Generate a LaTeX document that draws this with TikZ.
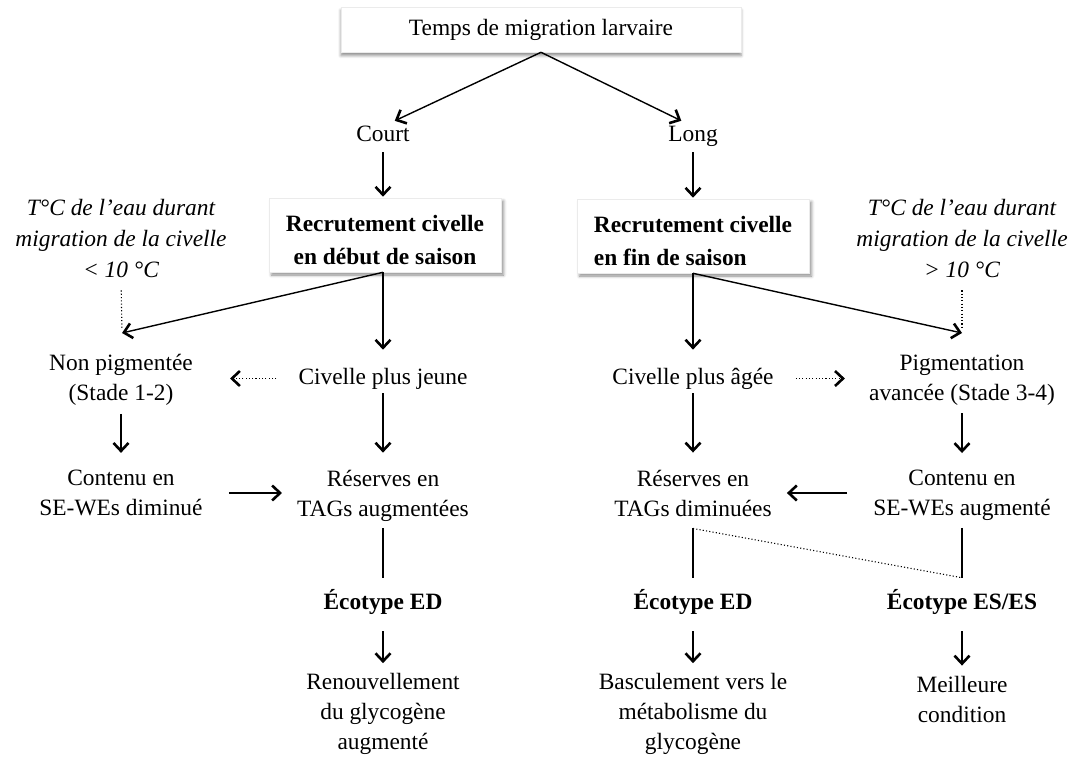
\documentclass[tikz,border=0pt]{standalone}
\usepackage{fontspec}
\setmainfont{Liberation Serif}
\usetikzlibrary{arrows.meta,shadows.blur}

\newcommand\dfs{\fontsize{23.4}{30}\selectfont}
\newcommand\nfs{\fontsize{23.4}{31}\selectfont\itshape}
\newcommand\bfs{\fontsize{23.4}{33}\selectfont\bfseries}

\begin{document}
\begin{tikzpicture}[x=1pt,y=-1pt,
  lbl/.style={font=\dfs, align=center, inner sep=0pt},
  note/.style={font=\nfs, align=center, inner sep=0pt},
  eco/.style={font=\dfs\bfseries, align=center, inner sep=0pt},
  shadowed/.style={fill=white, draw=black!8, line width=0.6pt},
  boxed/.style={shadowed, font=\bfs, inner sep=0pt,
    minimum width=232pt, minimum height=74pt,
    blur shadow={shadow xshift=2.5pt, shadow yshift=-3pt,
      shadow blur radius=3pt, shadow opacity=45}},
  topbox/.style={shadowed, font=\dfs, inner sep=0pt,
    minimum width=400pt, minimum height=45pt,
    blur shadow={shadow xshift=0pt, shadow yshift=-3.5pt,
      shadow blur radius=3pt, shadow opacity=45}},
  tip/.style={-{Straight Barb[length=8pt,width=15pt,line width=2.6pt 0]}},
  arr/.style={line width=1.4pt, tip},
  link/.style={line width=1.4pt},
  dots/.style={line width=1.1pt, dash pattern=on 1.1pt off 2.2pt},
  dotarr/.style={dots, tip}
]
\useasboundingbox (0,0) rectangle (1075,759);

% header
\node[topbox] (top) at (541,29.5) {Temps de migration larvaire};
\node[lbl, anchor=base] (court) at (383,142) {Court};
\node[lbl, anchor=base] (long) at (693,142) {Long};

% recruitment boxes (the strut sets the first baseline)
\node[boxed, align=center] (boxL) at (385,235)
  {\rule{0pt}{27pt}Recrutement civelle\\en début de saison};
\node[boxed, align=left] (boxR) at (693,236)
  {\rule{0pt}{27pt}Recrutement civelle\\en fin de saison};

% water temperature notes
\node[note] (tL) at (121,238) {T°C de l’eau durant\\migration de la civelle\\< 10 °C};
\node[note] (tR) at (962,238) {T°C de l’eau durant\\migration de la civelle\\> 10 °C};
\coordinate (jL) at (122,333);
\coordinate (jR) at (962,333);

% pigmentation / age
\node[lbl] (np) at (121,380) {Non pigmentée\\(Stade 1-2)};
\node[lbl] (cj) at (383,378.5) {Civelle plus jeune};
\node[lbl] (ca) at (693,378.5) {Civelle plus âgée};
\node[lbl] (pa) at (962,380) {Pigmentation\\avancée (Stade 3-4)};

% reserves
\node[lbl] (ce1) at (121,493) {Contenu en\\SE-WEs diminué};
\node[lbl] (rta) at (383,495.5) {Réserves en\\TAGs augmentées};
\node[lbl] (rtd) at (693,493) {Réserves en\\TAGs diminuées};
\node[lbl] (ce2) at (962,495.5) {Contenu en\\SE-WEs augmenté};

% ecotypes
\node[eco] (ed1) at (383,601.5) {Écotype ED};
\node[eco] (ed2) at (693,601.5) {Écotype ED};
\node[eco] (es) at (962,601.5) {Écotype ES/ES};

% outcomes
\node[lbl] (ren) at (383,714) {Renouvellement\\du glycogène\\augmenté};
\node[lbl] (bas) at (693,714) {Basculement vers le\\métabolisme du\\glycogène};
\node[lbl] (mei) at (962,699) {Meilleure\\condition};

% ends of the dotted link between the two ecotype branches
\coordinate (dA) at ([yshift=-12pt]rtd.south);
\coordinate (dB) at ([yshift=11pt]es.north);

% connectors
\draw[arr, shorten >=13pt] (top.south) -- (court.north);
\draw[arr, shorten >=13pt] (top.south) -- (long.north);
\draw[arr, shorten <=10pt, shorten >=1pt] (court.south) -- (boxL.north -| court);
\draw[arr, shorten <=5pt, shorten >=1pt] (long.south) -- (boxR.north -| long);

\draw[arr] (boxL.south -| cj) -- (jL);
\draw[dots, shorten <=13pt, shorten >=5pt] (tL.south) -- (jL);
\draw[arr, shorten >=18pt] (boxL.south -| cj) -- (cj.north);
\draw[arr] (boxR.south -| ca) -- (jR);
\draw[dots, shorten <=13pt, shorten >=5pt] (tR.south) -- (jR);
\draw[arr, shorten >=18pt] (boxR.south -| ca) -- (ca.north);

\draw[dotarr, shorten <=22pt, shorten >=37pt] (cj.west) -- (np.east |- cj.west);
\draw[dotarr, shorten <=22pt, shorten >=24pt] (ca.east) -- (pa.west |- ca.east);

\draw[arr, shorten <=8pt, shorten >=17pt] (np.south) -- (ce1.north);
\draw[arr, shorten <=4pt, shorten >=17pt] (cj.south) -- (rta.north);
\draw[arr, shorten <=4pt, shorten >=17pt] (ca.south) -- (rtd.north);
\draw[arr, shorten <=8pt, shorten >=17pt] (pa.south) -- (ce2.north);

\draw[arr, shorten <=26pt, shorten >=15pt] (ce1.east) -- (rta.west |- ce1.east);
\draw[arr, shorten <=26pt, shorten >=15pt] (ce2.west |- rtd.east) -- (rtd.east);

\draw[link, shorten <=7pt, shorten >=11pt] (rta.south) -- (ed1.north);
\draw[link, shorten >=11pt] (dA) -- (ed2.north);
\draw[link, shorten <=7pt] (ce2.south) -- (dB);
\draw[dots] (dA) -- (dB);

\draw[arr, shorten <=17pt, shorten >=10pt] (ed1.south) -- (ren.north);
\draw[arr, shorten <=17pt, shorten >=10pt] (ed2.south) -- (bas.north);
\draw[arr, shorten <=17pt, shorten >=10pt] (es.south) -- (mei.north);
\end{tikzpicture}
\end{document}
